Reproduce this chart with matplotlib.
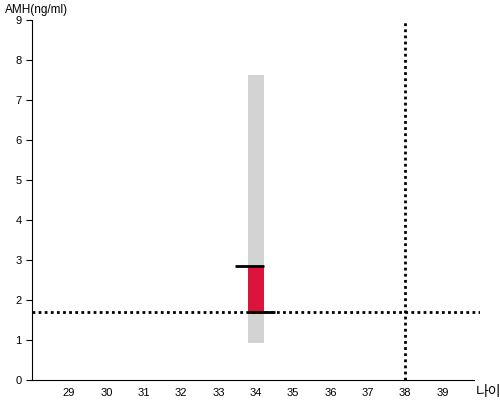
import matplotlib.pyplot as plt

plt.rcParams['font.family'] = ['Liberation Sans', 'Noto Sans CJK KR', 'DejaVu Sans']

age = 34
range_low, range_high = 0.93, 7.63
amh_low, amh_high = 1.7, 2.85
ref_age = 38
ref_amh = 1.7
xticks = list(range(29, 40))
yticks = list(range(0, 10))

fig = plt.figure(figsize=(5, 4), dpi=100)
ax = fig.add_axes([0.063, 0.05, 0.897, 0.9])

ax.bar(age, range_high - range_low, bottom=range_low, width=0.43, color='#d3d3d3', zorder=1)
ax.bar(age, amh_high - amh_low, bottom=amh_low, width=0.43, color='#dc143c', zorder=2)
ax.hlines(amh_high, age - 0.55, age + 0.21, color='black', lw=2, zorder=3)
ax.hlines(amh_low, age - 0.22, age + 0.52, color='black', lw=2, zorder=3)

ax.axhline(ref_amh, color='black', lw=2, linestyle=(0, (1, 1.2)), zorder=2)
ax.axvline(ref_age, color='black', lw=2, linestyle=(0, (1, 1.2)), zorder=2)

ax.set_xlim(28, 40)
ax.set_ylim(0, 9)
ax.set_xticks(xticks)
ax.set_yticks(yticks)
ax.tick_params(axis='x', length=0, labelsize=8, pad=6)
ax.tick_params(axis='y', length=4, labelsize=8, pad=3)
for s in ['top', 'right']:
    ax.spines[s].set_visible(False)
ax.spines['bottom'].set_bounds(28, 39.85)

fig.text(0.01, 0.975, 'AMH(ng/ml)', fontsize=8.5, va='center', ha='left')
fig.text(0.952, 0.02, '나이', fontsize=10, va='center', ha='left',
         family=['Noto Sans CJK KR', 'DejaVu Sans'], fontweight='light')

fig.savefig('out.png', dpi=100)
